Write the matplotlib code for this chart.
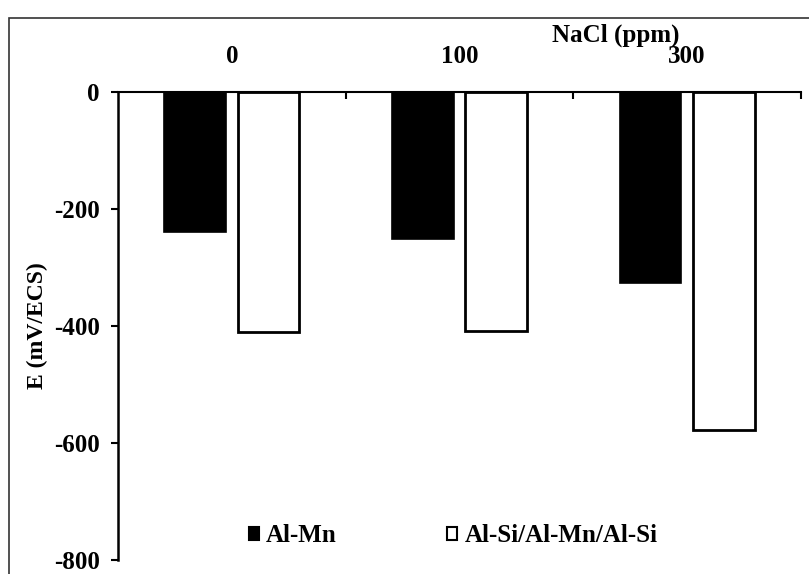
import numpy as np
import matplotlib
matplotlib.use("Agg")
import matplotlib.pyplot as plt
from matplotlib.patches import Rectangle

# data
categories = ["0", "100", "300"]
series_names = ["Al-Mn", "Al-Si/Al-Mn/Al-Si"]
al_mn = [-239, -252, -327]
al_si = [-410, -408, -578]

plt.rcParams['font.family'] = ['Liberation Serif', 'DejaVu Serif']
plt.rcParams['font.weight'] = 'bold'
plt.rcParams['axes.unicode_minus'] = False

fig = plt.figure(figsize=(8.09, 5.74), dpi=100)
ax = fig.add_axes([118 / 809, 1 - 560 / 574, (801 - 118) / 809, (560 - 91.7) / 574])

x = np.arange(len(categories))
w = 0.27
off = 0.161
ax.bar(x - off, al_mn, w, color='black', edgecolor='black', linewidth=1.2, label=series_names[0])
ax.bar(x + off, al_si, w, color='white', edgecolor='black', linewidth=2, label=series_names[1])

ax.set_xlim(-0.5, 2.5)
ax.set_ylim(-800, 0)
ax.set_yticks([0, -200, -400, -600, -800])
ax.tick_params(axis='y', direction='out', length=5, width=1.5, labelsize=18, pad=8)

# category axis sits at the top (y = 0)
ax.xaxis.tick_top()
ax.set_xticks(x)
ax.set_xticklabels(categories, fontsize=18, fontweight='bold')
ax.set_xticks([0.5, 1.5, 2.5], minor=True)
ax.tick_params(axis='x', which='major', length=0, pad=17)
ax.tick_params(axis='x', which='minor', direction='in', length=5, width=1.5, top=True, bottom=False)

for s in ['right', 'bottom']:
    ax.spines[s].set_visible(False)
ax.spines['top'].set_linewidth(1.5)
ax.spines['left'].set_linewidth(1.8)

ax.set_ylabel("E (mV/ECS)", fontsize=17, fontweight='bold', labelpad=4)
fig.text(616 / 809, 1 - 42 / 574, "NaCl (ppm)", fontsize=18, fontweight='bold',
         ha='center', va='baseline')

leg = ax.legend(loc='center', bbox_to_anchor=(0.4905, 0.052), ncol=2, frameon=False,
                fontsize=18, handlelength=0.4, handleheight=0.4, handletextpad=0.3,
                columnspacing=4.4)
for h in leg.legend_handles:
    h.set_linewidth(1.5)

# outer frame of the figure
fig.add_artist(Rectangle((9 / 809, -0.1), 1.2, 0.1 + 1 - 18 / 574, transform=fig.transFigure,
                         fill=False, edgecolor='#333333', linewidth=1.2))

fig.savefig("out.png", dpi=100)
